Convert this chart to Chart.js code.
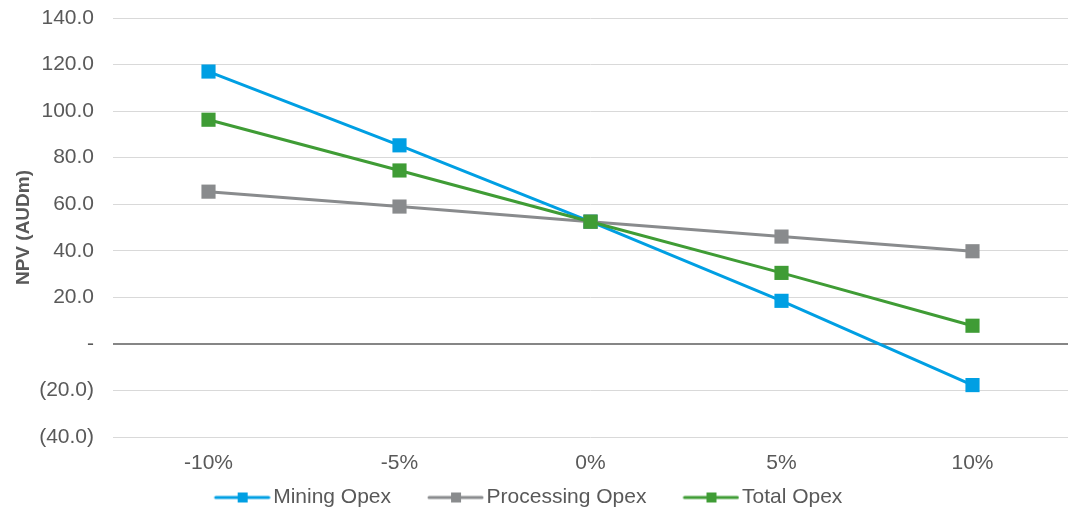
<!DOCTYPE html>
<html>
<head>
<meta charset="utf-8">
<script src="https://cdn.jsdelivr.net/npm/chart.js@4"></script>
<style>
  html, body { margin: 0; padding: 0; background: #fff; overflow: hidden; }
  #wrap { position: relative; width: 1078px; height: 510px; }
</style>
</head>
<body>
<div id="wrap"><canvas id="npv" width="1078" height="510"></canvas></div>
<script>
// Opex sensitivity of project NPV (AUDm)
const opexChange = ['-10%', '-5%', '0%', '5%', '10%'];
const miningOpex = [117.0, 85.3, 52.5, 18.5, -17.7];
const processingOpex = [65.4, 59.0, 52.5, 46.1, 39.8];
const totalOpex = [96.3, 74.5, 52.5, 30.5, 7.8];
const yTicks = { min: -40, max: 140, step: 20 };

const BLUE = '#009fe3';
const GREY = '#898b8d';
const GREEN = '#3f9c35';
const TEXT = '#595959';
const FONT = '"Liberation Sans", Arial, sans-serif';

// Legend swatch: transparent lead-in, then a short line with a square marker
const SW_LEAD = 42, SW_LINE = 57;
function swatch(color) {
  const c = document.createElement('canvas');
  c.width = SW_LEAD + SW_LINE; c.height = 12;
  const g = c.getContext('2d');
  g.strokeStyle = color; g.lineWidth = 3; g.lineCap = 'round';
  g.beginPath(); g.moveTo(SW_LEAD + 2, 6); g.lineTo(SW_LEAD + SW_LINE - 2, 6); g.stroke();
  g.fillStyle = color; g.fillRect(Math.round(SW_LEAD + SW_LINE / 2 - 5), 1, 10, 10);
  return c;
}

function fmt(v) {
  if (v === 0) return '-';
  const s = Math.abs(v).toFixed(1);
  return v < 0 ? '(' + s + ')' : s;
}

const series = [
  { label: 'Mining Opex', data: miningOpex, color: BLUE, order: 3 },
  { label: 'Processing Opex', data: processingOpex, color: GREY, order: 2 },
  { label: 'Total Opex', data: totalOpex, color: GREEN, order: 1 }
];

// fine placement of the legend block below the axis
const legendShift = {
  id: 'legendShift',
  afterLayout(chart) {
    const lg = chart.legend;
    if (lg) {
      lg.left -= 28; lg.right -= 28;
      lg.top += 8; lg.bottom += 8;
    }
  }
};

new Chart(document.getElementById('npv'), {
  type: 'line',
  data: {
    labels: opexChange,
    datasets: series.map(s => ({
      label: s.label,
      data: s.data,
      borderColor: s.color,
      backgroundColor: s.color,
      pointBackgroundColor: s.color,
      pointBorderColor: s.color,
      borderWidth: 3,
      pointStyle: 'rect',
      pointRadius: 10,
      pointBorderWidth: 0,
      pointHoverRadius: 10,
      tension: 0,
      fill: false,
      order: s.order,
      swatch: swatch(s.color)
    }))
  },
  options: {
    responsive: false,
    animation: false,
    devicePixelRatio: 1,
    layout: { padding: { top: 18, right: 0, bottom: 0, left: 0 } },
    plugins: {
      tooltip: { enabled: false },
      legend: {
        position: 'bottom',
        labels: {
          usePointStyle: true,
          pointStyleWidth: SW_LEAD + SW_LINE - 16,
          boxHeight: 12,
          padding: 2,
          color: TEXT,
          font: { family: FONT, size: 21 },
          generateLabels(chart) {
            return chart.data.datasets.map((ds, i) => ({
              text: ds.label,
              fillStyle: ds.borderColor,
              strokeStyle: ds.borderColor,
              lineWidth: 0,
              pointStyle: ds.swatch,
              hidden: false,
              datasetIndex: i,
              fontColor: TEXT
            }));
          }
        }
      }
    },
    scales: {
      x: {
        offset: true,
        afterFit(axis) { axis.height = 40; },
        grid: { display: false, drawTicks: false, offset: true },
        border: { display: false },
        ticks: { color: TEXT, font: { family: FONT, size: 21 }, padding: 14 }
      },
      y: {
        min: yTicks.min,
        max: yTicks.max,
        afterFit(axis) { axis.width = 113; axis.paddingTop = 0; axis.paddingBottom = 0; },
        border: { display: false },
        grid: {
          drawTicks: false,
          color: ctx => (ctx.tick && ctx.tick.value === 0) ? '#868686' : '#d9d9d9',
          lineWidth: ctx => (ctx.tick && ctx.tick.value === 0) ? 2 : 1
        },
        ticks: {
          stepSize: yTicks.step,
          color: TEXT,
          padding: 19,
          font: { family: FONT, size: 21 },
          callback: v => fmt(v)
        },
        title: {
          display: true,
          text: 'NPV (AUDm)',
          color: TEXT,
          font: { family: FONT, size: 19, weight: 'bold' },
          padding: { top: 12, bottom: 0 }
        }
      }
    }
  },
  plugins: [legendShift]
});
</script>
</body>
</html>
